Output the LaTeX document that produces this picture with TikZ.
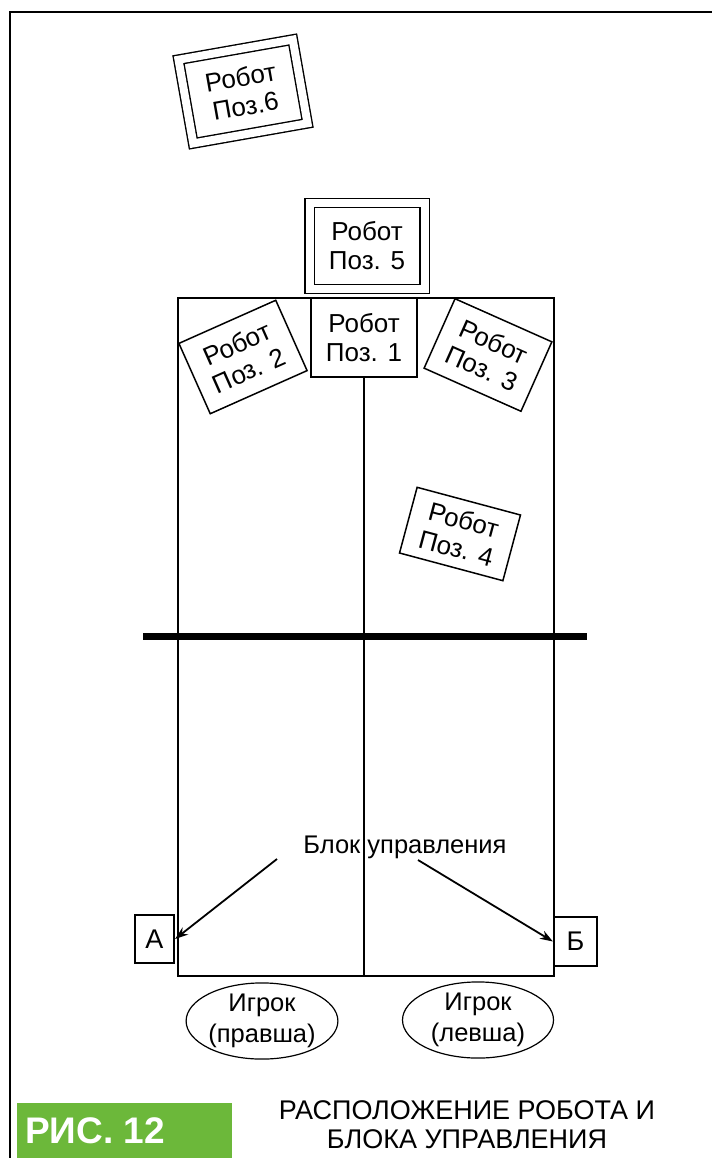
\documentclass[tikz,border=0pt]{standalone}
\usepackage{fontspec}
\setmainfont{Liberation Sans}
\usetikzlibrary{arrows.meta,shapes.geometric}
\definecolor{figgreen}{RGB}{108,184,58}
\begin{document}
\begin{tikzpicture}[x=1pt,y=-1pt,
  robot/.style={draw, line width=1.5pt, inner sep=0pt, align=center,
    font=\fontsize{26}{29}\selectfont},
  robotdbl/.style={robot, double, double distance=8pt, line width=1.4pt},
  letterbox/.style={draw, line width=2.2pt, inner sep=0pt,
    font=\fontsize{27}{30}\selectfont},
  player/.style={ellipse, draw, line width=1.2pt, inner sep=0pt, align=center,
    font=\fontsize{25.5}{31}\selectfont},
  pointer/.style={line width=1.8pt, -{Stealth[length=13pt,width=9pt]}}]
\useasboundingbox (0,0) rectangle (712,1158);
\fill[white] (0,0) rectangle (712,1158);
% frame
\draw[line width=2.4pt] (10,1158) -- (10,12) -- (712,12);
% court
\node[draw, line width=1.5pt, minimum width=376pt, minimum height=678pt, anchor=north west, inner sep=0pt] (court) at (177,297) {};
% robots
\node[robot, minimum width=106pt, minimum height=79pt, fill=white] (r1) at (364,337.5) {Робот\\Поз. 1};
\node[robot, minimum width=106pt, minimum height=77pt, fill=white, rotate=24] (r2) at (243,357) {Робот\\Поз. 2};
\node[robot, minimum width=106pt, minimum height=76pt, fill=white, rotate=-24] (r3) at (488,355) {Робот\\Поз. 3};
\node[robot, minimum width=107pt, minimum height=68pt, fill=white, rotate=-15] (r4) at (460,534) {Робот\\Поз. 4};
\node[robotdbl, minimum width=115pt, minimum height=86pt] (r5) at (367,246) {Робот\\Поз. 5};
\node[robotdbl, minimum width=116pt, minimum height=85pt, rotate=10] (r6) at (243,91.5) {Робот\\Поз.6};
% centre line
\draw[line width=1.5pt] (r1.south) -- (r1.south |- court.south);
% net
\draw[line width=7pt] (143,636) -- (587,636);
% control unit
\node[anchor=base, inner sep=0pt, font=\fontsize{25.5}{30}\selectfont] (ctrl) at (405,853) {Блок управления};
\node[letterbox, minimum width=39pt, minimum height=48pt] (A) at (154.5,939) {А};
\node[letterbox, minimum width=43pt, minimum height=49pt] (B) at (575.5,941.5) {Б};
\coordinate (la) at (277,859);
\coordinate (ra) at (418,860);
\draw[pointer] (la) -- (A.east);
\draw[pointer] (ra) -- (B.west);
% players
\node[player, minimum width=150pt, minimum height=72pt] (p1) at (262,1021) {Игрок\\(правша)};
\node[player, minimum width=151pt, minimum height=75pt] (p2) at (478,1020) {Игрок\\(левша)};
% caption
\fill[figgreen] (17,1103) rectangle (232,1158);
\node[anchor=base west, inner sep=0pt, text=white, font=\fontsize{37}{40}\selectfont\bfseries] (fig) at (25,1143) {РИС. 12};
\node[align=center, inner sep=0pt, font=\fontsize{27}{29}\selectfont] (title) at (467,1125) {РАСПОЛОЖЕНИЕ РОБОТА И\\БЛОКА УПРАВЛЕНИЯ};
\end{tikzpicture}
\end{document}
